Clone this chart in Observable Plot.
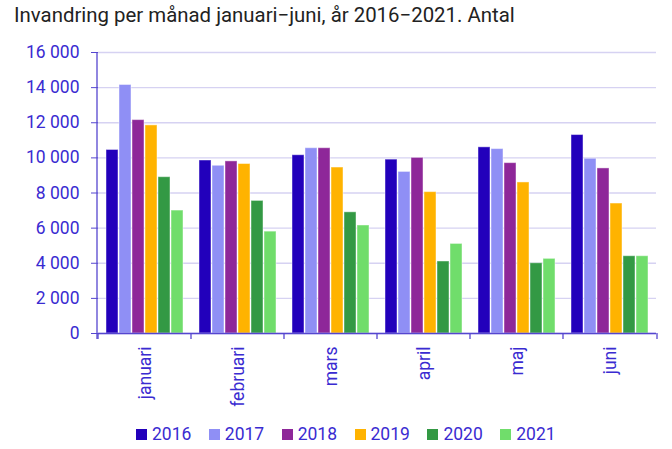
<!DOCTYPE html>
<html>
<head>
<meta charset="utf-8">
<script src="https://cdn.jsdelivr.net/npm/d3@7"></script>
<script src="https://cdn.jsdelivr.net/npm/@observablehq/plot@0.6"></script>
<style>
  html, body { margin: 0; padding: 0; background: #fff; }
  body { width: 672px; height: 449px; position: relative; overflow: hidden; font-family: Roboto, sans-serif; }
  #title { position: absolute; left: 14px; top: 3px; font-size: 20.4px; color: #222; white-space: nowrap; }
  #chart { position: absolute; left: 0; top: 30px; }
  #legend { position: absolute; left: 136px; top: 424px; display: flex; align-items: center; font-size: 17.5px; color: #3a2bd1; }
  #legend .item { display: flex; align-items: center; margin-right: 17.5px; }
  #legend .sw { width: 11px; height: 11px; margin-right: 5px; }
</style>
</head>
<body>
<div id="title">Invandring per månad januari−juni, år 2016−2021. Antal</div>
<div id="chart"></div>
<div id="legend"></div>
<script>
const months = ["januari", "februari", "mars", "april", "maj", "juni"];
const years = ["2016", "2017", "2018", "2019", "2020", "2021"];
const colors = ["#2200bb", "#8f8ff5", "#8e2799", "#ffb300", "#339944", "#70dd6b"];
const yTicks = [0, 2000, 4000, 6000, 8000, 10000, 12000, 14000, 16000];

const v2016 = [10450, 9850, 10150, 9900, 10600, 11300];
const v2017 = [14150, 9550, 10550, 9200, 10500, 9950];
const v2018 = [12150, 9800, 10550, 10000, 9700, 9400];
const v2019 = [11850, 9650, 9450, 8050, 8600, 7400];
const v2020 = [8900, 7550, 6900, 4100, 4000, 4400];
const v2021 = [7000, 5800, 6150, 5100, 4250, 4400];

const series = [v2016, v2017, v2018, v2019, v2020, v2021];
const data = [];
months.forEach((m, i) => {
  years.forEach((yr, j) => data.push({month: m, year: yr, value: series[j][i]}));
});

const locale = d3.formatLocale({decimal: ",", thousands: "\u00a0", grouping: [3], currency: ["", ""]});
const fmt = locale.format(",d");

const axisColor = "#5546cf";
const textColor = "#3a2bd1";

const plot = Plot.plot({
  width: 672,
  height: 390,
  marginTop: 22,
  marginBottom: 87,
  marginLeft: 97,
  marginRight: 15,
  style: {fontFamily: "Roboto, sans-serif", fontSize: "17.5px", background: "white", overflow: "visible"},
  fx: {domain: months, padding: 0, label: null},
  x: {domain: years, paddingInner: 0.1, paddingOuter: 0.6, axis: null},
  y: {domain: [0, 16000], label: null},
  color: {domain: years, range: colors},
  marks: [
    Plot.gridY(yTicks, {stroke: "#d6d2f2", strokeOpacity: 1, strokeWidth: 1.3}),
    Plot.barY(data, {fx: "month", x: "year", y: "value", fill: "year", stroke: "white", strokeOpacity: 0.45, strokeWidth: 1}),
    Plot.ruleY([0], {stroke: axisColor, strokeWidth: 1.3}),
    Plot.axisY(yTicks, {tickSize: 7, tickPadding: 12, tickFormat: fmt, stroke: axisColor, fill: textColor, label: null, fontSize: 17.5}),
    Plot.axisFx({anchor: "bottom", tickSize: 0, tickPadding: 13, tickRotate: -90, fill: textColor, label: null, fontSize: 17.5})
  ]
});

// axis line on the left and band boundary ticks on the x axis, from the plot's own scales
const fx = plot.scale("fx");
const ys = plot.scale("y");
const svg = d3.select(plot);
const g = svg.append("g").attr("stroke", axisColor).attr("stroke-width", 1.3);
const x0 = fx.range[0];
const x1 = fx.range[1];
const yTop = ys.apply ? ys.apply(16000) : ys.range[1];
const yBot = ys.apply ? ys.apply(0) : ys.range[0];
g.append("line").attr("x1", x0).attr("x2", x0).attr("y1", yTop).attr("y2", yBot + 6);
const edges = months.map(m => fx.apply ? fx.apply(m) : null).filter(v => v != null);
edges.push(x1);
edges.forEach(e => {
  g.append("line").attr("x1", e).attr("x2", e).attr("y1", yBot).attr("y2", yBot + 6);
});

document.getElementById("chart").appendChild(plot);

const legend = document.getElementById("legend");
years.forEach((yr, i) => {
  const it = document.createElement("div");
  it.className = "item";
  const sw = document.createElement("div");
  sw.className = "sw";
  sw.style.background = colors[i];
  const t = document.createElement("span");
  t.textContent = yr;
  it.appendChild(sw);
  it.appendChild(t);
  legend.appendChild(it);
});
</script>
</body>
</html>
